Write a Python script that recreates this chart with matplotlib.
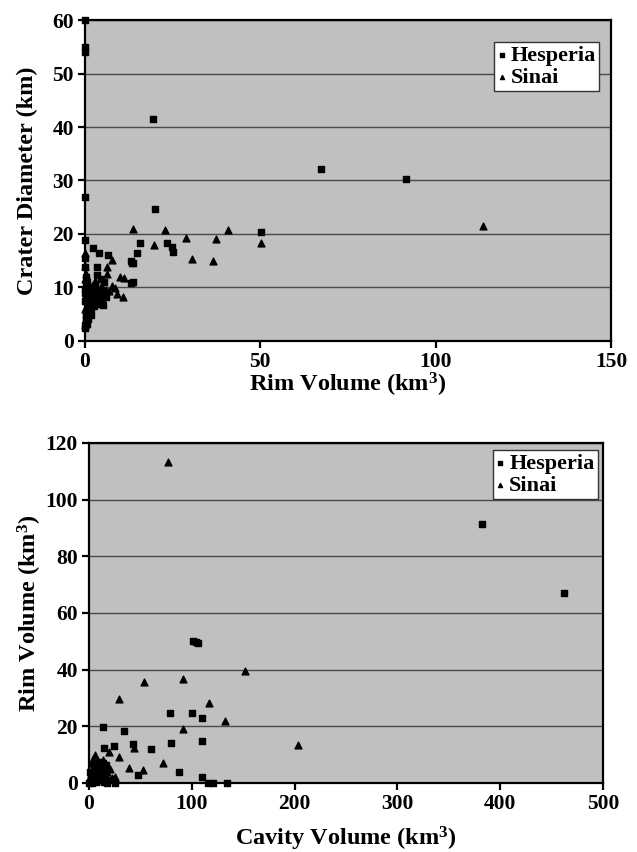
import matplotlib

matplotlib.use("Agg")
import matplotlib.pyplot as plt

# --- top panel: rim volume (km3) vs crater diameter (km)
hes_rim = [0.0, 0.0, 0.0, 0.0, 0.0, 0.0, 0.0, 19.4, 20.1, 67.2, 91.4, 50.3,
           15.7, 14.7, 23.3, 24.7, 25.2, 13.3, 13.6, 13.0, 13.8, 13.2, 2.4,
           4.1, 6.6, 3.3, 3.4, 4.5, 5.5,
           0.0, 0.1, 0.2, 0.3, 0.5, 0.2, 0.4, 0.6, 0.8, 1.0, 1.2, 1.5, 0.3,
           0.7, 1.1, 1.6, 2.0, 2.5, 3.0, 3.5, 4.0, 4.5, 5.0, 0.1, 0.5, 0.9,
           1.3, 1.8, 2.2, 2.8, 3.3, 3.8, 0.2, 0.6, 1.0, 1.4, 0.3, 0.0, 0.0,
           2.6, 1.7, 6.0, 5.6, 4.8, 3.0]
hes_diam = [60.0, 54.0, 55.0, 26.9, 18.9, 15.5, 13.8, 41.5, 24.6, 32.1, 30.2, 20.4,
            18.3, 16.4, 18.3, 17.6, 16.7, 14.5, 14.5, 15.0, 11.1, 10.8, 17.3,
            16.4, 16.1, 13.9, 12.3, 11.5, 11.0,
            2.5, 3.0, 3.5, 4.0, 4.5, 5.0, 5.5, 6.0, 6.5, 7.0, 7.5, 8.0, 8.5,
            9.0, 9.5, 10.0, 9.0, 8.5, 8.0, 7.5, 7.5, 7.0, 6.8, 9.8, 3.2, 4.2,
            5.2, 6.2, 7.2, 7.8, 8.8, 9.2, 10.5, 11.0, 6.0, 5.0, 12.0, 7.5, 9.0,
            6.5, 4.8, 8.2, 9.0, 8.0, 10.2]
sin_rim = [13.8, 19.8, 22.8, 28.8, 30.4, 37.3, 36.6, 40.7, 50.3, 113.6,
           7.6, 10.0, 11.2, 6.2, 6.3, 10.9, 9.2, 8.5, 7.6,
           0.0, 0.2, 0.4, 0.6, 0.9, 1.2, 1.6, 2.0, 2.6, 3.2, 3.8, 4.5, 5.2,
           6.0, 6.8, 0.1, 0.5, 1.0, 1.5, 2.2, 3.0, 0.0, 0.3, 0.8, 4.2, 5.6,
           0.0, 0.1]
sin_diam = [21.0, 17.9, 20.7, 19.2, 15.4, 19.0, 15.0, 20.7, 18.4, 21.5,
            15.1, 12.0, 11.7, 13.9, 12.6, 8.3, 8.7, 9.9, 10.2,
            3.0, 4.0, 5.0, 5.8, 6.5, 7.0, 7.6, 8.2, 8.8, 9.2, 9.6, 10.0, 9.8,
            9.5, 9.3, 6.0, 7.4, 8.6, 9.6, 10.4, 11.2, 11.5, 12.5, 10.8, 8.0, 8.8,
            14.0, 16.5]

# --- bottom panel: cavity volume (km3) vs rim volume (km3)
hes_cav = [13.9, 34.4, 24.6, 14.9, 43.1, 60.3, 78.8, 79.5, 99.9, 110.3, 110.3,
           101.5, 104.0, 106.3, 48.0, 87.8, 110.2, 116.0, 121.0, 134.0, 25.6,
           382.0, 462.4,
           0.0, 1.0, 2.0, 3.0, 4.0, 5.0, 6.0, 7.0, 8.0, 9.0, 10.0, 11.0, 12.0,
           13.0, 14.0, 15.0, 16.0, 18.0, 20.0, 2.5, 4.5, 6.5, 8.5, 10.5, 12.5,
           14.5, 5.0, 7.5, 9.5, 11.5, 13.5, 3.5, 8.0, 12.0, 16.5, 0.5, 1.5]
hes_rimv = [19.9, 18.5, 13.2, 12.5, 13.8, 12.1, 24.6, 14.0, 24.6, 23.1, 14.9,
            50.1, 49.8, 49.5, 2.8, 3.9, 2.1, 0.0, 0.0, 0.0, 0.0,
            91.3, 67.1,
            0.0, 0.5, 1.0, 0.0, 2.0, 1.0, 3.0, 0.5, 4.0, 1.5, 5.0, 2.0, 6.0,
            1.0, 7.0, 0.5, 2.5, 0.0, 1.0, 3.5, 2.5, 4.5, 3.0, 6.5, 5.5,
            4.0, 6.0, 5.5, 7.5, 7.0, 3.0, 2.0, 1.5, 4.5, 6.5, 4.0, 2.5]
sin_cav = [77.2, 151.8, 53.5, 91.8, 29.5, 117.0, 132.3, 91.8, 203.0, 44.1,
           39.2, 52.2, 72.3, 28.9, 19.8, 25.3, 5.8,
           1.0, 2.0, 3.0, 4.0, 6.0, 8.0, 10.0, 12.0, 14.0, 16.0, 18.0, 20.0,
           7.0, 9.0, 11.0, 13.0, 3.5, 15.0, 17.0, 22.0, 2.5, 8.5]
sin_rimv = [113.4, 39.6, 35.8, 36.6, 29.8, 28.1, 22.0, 19.1, 13.4, 12.2,
            5.4, 4.6, 6.9, 9.3, 10.8, 2.2, 9.9,
            1.5, 3.0, 4.5, 2.0, 6.0, 7.5, 3.5, 5.0, 8.0, 1.5, 4.0, 5.0,
            0.8, 2.5, 6.5, 3.0, 8.5, 6.0, 0.8, 1.8, 7.0, 5.5]

plt.rcParams["font.family"] = ["Liberation Serif", "DejaVu Serif"]
plt.rcParams["font.weight"] = "bold"
plt.rcParams["mathtext.fontset"] = "custom"
plt.rcParams["mathtext.rm"] = "Liberation Serif:bold"
plt.rcParams["mathtext.it"] = "Liberation Serif:bold"
plt.rcParams["mathtext.bf"] = "Liberation Serif:bold"

BG = "#c0c0c0"
GRID = "#4a4a4a"

fig = plt.figure(figsize=(6.37, 8.52), dpi=100)
ax1 = fig.add_axes([0.1334, 0.5998, 0.8258, 0.3767])
ax2 = fig.add_axes([0.1397, 0.0810, 0.8069, 0.3991])


def style(ax, xlim, ylim, xticks, yticks, xlabel, ylabel, xpad, ypad):
    ax.set_facecolor(BG)
    ax.set_xlim(*xlim)
    ax.set_ylim(*ylim)
    ax.set_xticks(xticks)
    ax.set_yticks(yticks)
    ax.yaxis.grid(True, color=GRID, lw=1.0)
    ax.set_axisbelow(True)
    for sp in ax.spines.values():
        sp.set_color("black")
        sp.set_linewidth(1.6)
    ax.tick_params(direction="out", length=5, width=1.6, labelsize=15.5, pad=3)
    ax.set_xlabel(xlabel, fontsize=17.5, fontweight="bold", labelpad=xpad)
    ax.set_ylabel(ylabel, fontsize=17.5, fontweight="bold", labelpad=ypad)


ax1.scatter(hes_rim, hes_diam, marker="s", s=22, color="black", label="Hesperia",
            zorder=3, clip_on=False)
ax1.scatter(sin_rim, sin_diam, marker="^", s=24, color="black", label="Sinai",
            zorder=3, clip_on=False)
style(ax1, (0, 150), (0, 60), [0, 50, 100, 150], range(0, 61, 10),
      "Rim Volume (km$^3$)", "Crater Diameter (km)", -1, 10)

ax2.scatter(hes_cav, hes_rimv, marker="s", s=22, color="black", label="Hesperia",
            zorder=3, clip_on=False)
ax2.scatter(sin_cav, sin_rimv, marker="^", s=24, color="black", label="Sinai",
            zorder=3, clip_on=False)
style(ax2, (0, 500), (0, 120), range(0, 501, 100), range(0, 121, 20),
      "Cavity Volume (km$^3$)", "Rim Volume (km$^3$)", 8, 1)

for ax, anchor in ((ax1, (0.978, 0.931)), (ax2, (0.990, 0.979))):
    leg = ax.legend(loc="upper right", bbox_to_anchor=anchor, fontsize=16,
                    markerscale=0.6, handlelength=0.4, handletextpad=0.2,
                    borderpad=0.15, labelspacing=0.05, fancybox=False,
                    framealpha=1, edgecolor="#333333", borderaxespad=0.0)
    leg.get_frame().set_linewidth(1.0)

fig.savefig("out.png", dpi=100)
